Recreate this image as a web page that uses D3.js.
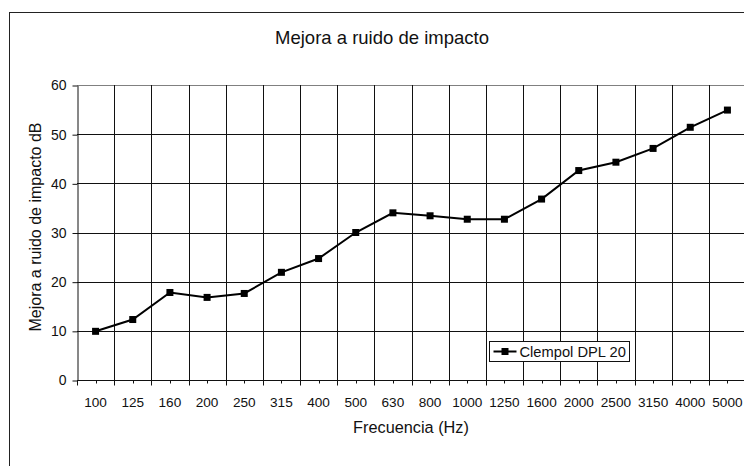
<!DOCTYPE html>
<html>
<head>
<meta charset="utf-8">
<script src="https://cdn.jsdelivr.net/npm/d3@7"></script>
<style>
  body { margin: 0; background: #fff; }
  svg { display: block; font-family: "Liberation Sans", Arial, sans-serif; }
</style>
</head>
<body>
<div id="chart"></div>
<script>
// frequency bands (Hz)
var categories = ['100', '125', '160', '200', '250', '315', '400', '500', '630', '800',
  '1000', '1250', '1600', '2000', '2500', '3150', '4000', '5000']
// improvement values, dB
var values = [9.9, 12.3, 17.8, 16.8, 17.6, 21.9, 24.7, 30.0, 34.0, 33.4,
  32.7, 32.7, 36.8, 42.6, 44.3, 47.1, 51.4, 54.9]
var yTicks = [0, 10, 20, 30, 40, 50, 60]
var seriesName = 'Clempol DPL 20'

var width = 744, height = 466
var plot = { left: 77, top: 85, right: 746, bottom: 380 }

var svg = d3.select('#chart').append('svg')
  .attr('width', width)
  .attr('height', height)

// outer chart frame
svg.append('rect')
  .attr('x', 9.5).attr('y', 12.5)
  .attr('width', 760).attr('height', 480)
  .attr('fill', 'none')
  .attr('stroke', '#222')
  .attr('stroke-width', 1)

var x = d3.scaleBand()
  .domain(categories)
  .range([plot.left, plot.right])

var y = d3.scaleLinear()
  .domain([0, 60])
  .range([plot.bottom, plot.top])

// horizontal gridlines
svg.append('g')
  .selectAll('line')
  .data(yTicks.slice(1))
  .enter().append('line')
  .attr('x1', plot.left).attr('x2', plot.right)
  .attr('y1', function(d) { return Math.round(y(d)) + 0.5 })
  .attr('y2', function(d) { return Math.round(y(d)) + 0.5 })
  .attr('stroke', function(d) { return d === 60 ? '#808080' : '#111' })
  .attr('stroke-width', 1)

// vertical gridlines at band boundaries
svg.append('g')
  .selectAll('line')
  .data(categories.slice(1))
  .enter().append('line')
  .attr('x1', function(d) { return Math.round(x(d)) + 0.5 })
  .attr('x2', function(d) { return Math.round(x(d)) + 0.5 })
  .attr('y1', plot.top).attr('y2', plot.bottom)
  .attr('stroke', '#111')
  .attr('stroke-width', 1)

// y axis
var yAxis = svg.append('g')
  .attr('transform', 'translate(' + (plot.left + 0.5) + ',0.5)')
  .call(d3.axisLeft(y).tickValues(yTicks).tickSize(5).tickSizeOuter(0))
yAxis.select('.domain').attr('stroke', '#111')
yAxis.selectAll('.tick line').attr('stroke', '#111')
yAxis.selectAll('text')
  .attr('font-size', '14px')
  .attr('font-family', '"Liberation Sans", Arial, sans-serif')
  .attr('fill', '#111')
  .attr('x', -11)

// x axis: long ticks at band edges, short ticks at centers
var xAxisG = svg.append('g')
  .attr('transform', 'translate(0,' + (Math.round(plot.bottom) + 0.5) + ')')
xAxisG.append('line')
  .attr('x1', plot.left).attr('x2', plot.right)
  .attr('stroke', '#111')
xAxisG.selectAll('.edge')
  .data(categories)
  .enter().append('line')
  .attr('class', 'edge')
  .attr('x1', function(d) { return Math.round(x(d)) + 0.5 })
  .attr('x2', function(d) { return Math.round(x(d)) + 0.5 })
  .attr('y1', 0).attr('y2', 5)
  .attr('stroke', '#111')
xAxisG.selectAll('.mid')
  .data(categories)
  .enter().append('line')
  .attr('class', 'mid')
  .attr('x1', function(d) { return Math.round(x(d) + x.bandwidth() / 2) + 0.5 })
  .attr('x2', function(d) { return Math.round(x(d) + x.bandwidth() / 2) + 0.5 })
  .attr('y1', 0).attr('y2', 3)
  .attr('stroke', '#111')
xAxisG.selectAll('text')
  .data(categories)
  .enter().append('text')
  .attr('x', function(d) { return x(d) + x.bandwidth() / 2 })
  .attr('y', 26)
  .attr('text-anchor', 'middle')
  .attr('font-size', '13.6px')
  .attr('fill', '#111')
  .text(function(d) { return d })

// series line
var line = d3.line()
  .x(function(d, i) { return x(categories[i]) + x.bandwidth() / 2 })
  .y(function(d) { return y(d) })

svg.append('path')
  .datum(values)
  .attr('d', line)
  .attr('fill', 'none')
  .attr('stroke', '#000')
  .attr('stroke-width', 2)

svg.append('g')
  .selectAll('rect')
  .data(values)
  .enter().append('rect')
  .attr('x', function(d, i) { return x(categories[i]) + x.bandwidth() / 2 - 3.5 })
  .attr('y', function(d) { return y(d) - 3.5 })
  .attr('width', 7).attr('height', 7)
  .attr('fill', '#000')

// titles
svg.append('text')
  .attr('x', 382).attr('y', 44)
  .attr('text-anchor', 'middle')
  .attr('font-size', '18.5px')
  .attr('fill', '#111')
  .text('Mejora a ruido de impacto')

svg.append('text')
  .attr('x', 411).attr('y', 433)
  .attr('text-anchor', 'middle')
  .attr('font-size', '16.3px')
  .attr('fill', '#111')
  .text('Frecuencia (Hz)')

svg.append('text')
  .attr('transform', 'translate(41,227) rotate(-90)')
  .attr('text-anchor', 'middle')
  .attr('font-size', '16px')
  .attr('fill', '#111')
  .text('Mejora a ruido de impacto dB')

// legend
var legend = svg.append('g').attr('transform', 'translate(489.5,341.5)')
legend.append('rect')
  .attr('width', 140).attr('height', 20)
  .attr('fill', '#fff')
  .attr('stroke', '#111')
legend.append('line')
  .attr('x1', 4).attr('x2', 27)
  .attr('y1', 10).attr('y2', 10)
  .attr('stroke', '#000').attr('stroke-width', 2)
legend.append('rect')
  .attr('x', 12).attr('y', 6.5)
  .attr('width', 7).attr('height', 7)
  .attr('fill', '#000')
legend.append('text')
  .attr('x', 30).attr('y', 15.5)
  .attr('font-size', '14.7px')
  .attr('fill', '#111')
  .text(seriesName)
</script>
</body>
</html>
